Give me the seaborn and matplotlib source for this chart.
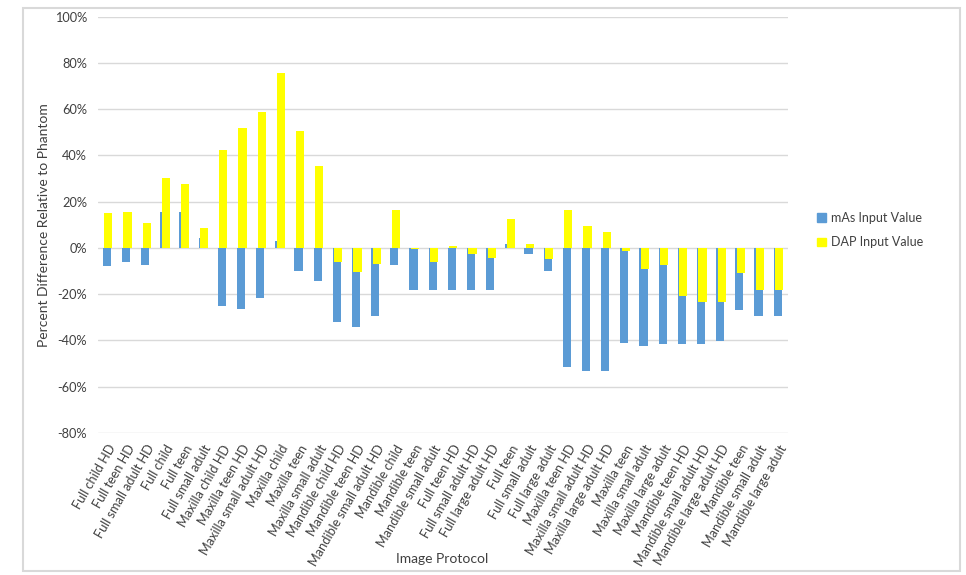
import matplotlib
matplotlib.use("Agg")
import matplotlib.pyplot as plt
import matplotlib.patches as mpatches
from matplotlib.ticker import FuncFormatter
import seaborn as sns
import pandas as pd

categories = [
    "Full child HD", "Full teen HD", "Full small adult HD", "Full child", "Full teen",
    "Full small adult", "Maxilla child HD", "Maxilla teen HD", "Maxilla small adult HD",
    "Maxilla child", "Maxilla teen", "Maxilla small adult", "Mandible child HD",
    "Mandible teen HD", "Mandible small adult HD", "Mandible child", "Mandible teen",
    "Mandible small adult", "Full teen HD", "Full small adult HD", "Full large adult HD",
    "Full teen", "Full small adult", "Full large adult", "Maxilla teen HD",
    "Maxilla small adult HD", "Maxilla large adult HD", "Maxilla teen", "Maxilla small adult",
    "Maxilla large adult", "Mandible teen HD", "Mandible small adult HD",
    "Mandible large adult HD", "Mandible teen", "Mandible small adult", "Mandible large adult",
]
mas_values = [
    -7.8, -6.2, -7.2, 15.4, 15.4, 4.3, -24.9, -26.3, -21.6, 2.9, -9.9, -14.2,
    -32.1, -34.1, -29.4, -7.2, -18.1, -18.1, -18.1, -18.1, -18.1, 1.9, -2.4, -9.8,
    -51.4, -53.1, -53.1, -40.9, -42.2, -41.7, -41.7, -41.7, -40.4, -26.9, -29.2, -29.2,
]
dap_values = [
    15.1, 15.4, 10.9, 30.2, 27.5, 8.5, 42.2, 51.7, 58.7, 75.8, 50.4, 35.4,
    -6.0, -10.5, -7.1, 16.3, -0.6, -6.0, 0.7, -2.4, -4.3, 12.5, 1.6, -4.6,
    16.3, 9.4, 6.8, -1.3, -9.1, -7.5, -20.6, -23.5, -23.5, -10.8, -18.3, -18.0,
]
series_names = ["mAs Input Value", "DAP Input Value"]
yticks = list(range(-80, 101, 20))

BLUE = "#5B9BD5"
YELLOW = "#FFFF00"

sns.set_style("white")
plt.rcParams["font.family"] = ["Lato", "DejaVu Sans"]

fig = plt.figure(figsize=(9.66, 5.75), dpi=100)
ax = fig.add_axes([98 / 966, 1 - 433 / 575, 690 / 966, (433 - 16.7) / 575])

idx = list(range(len(categories)))
df = pd.DataFrame({"pos": idx, "mas": mas_values, "dap": dap_values})

bw = 0.43
shift = 0.04
sns.barplot(data=df, x="pos", y="mas", color=BLUE, width=bw, saturation=1,
            ax=ax, zorder=2, linewidth=0)
n_blue = len(ax.patches)
sns.barplot(data=df, x="pos", y="dap", color=YELLOW, width=bw, saturation=1,
            ax=ax, zorder=3, linewidth=0)
for i, p in enumerate(ax.patches):
    if i < n_blue:
        p.set_x(p.get_x() - shift)
    else:
        p.set_x(p.get_x() + shift)

ax.set_xlim(-0.5, len(categories) - 0.5)
ax.set_ylim(-80, 100)
ax.set_yticks(yticks)
ax.yaxis.set_major_formatter(FuncFormatter(lambda v, _: f"{int(v)}%"))
ax.set_xticks(idx)
ax.set_xticklabels(categories, rotation=60, ha="right", rotation_mode="anchor",
                   fontsize=9.2, color="#404040")
ax.tick_params(axis="y", labelsize=9.2, colors="#404040", length=0, pad=8)
ax.tick_params(axis="x", length=0, pad=7)
ax.grid(axis="y", color="#d9d9d9", linewidth=1, zorder=0)
ax.set_axisbelow(True)
for s in ax.spines.values():
    s.set_visible(False)

ax.set_xlabel("")
ax.set_ylabel("")
fig.text(442 / 966, 1 - 559 / 575, "Image Protocol", ha="center", va="center",
         fontsize=10, color="#404040")
fig.text(44 / 966, 1 - 225 / 575, "Percent Difference Relative to Phantom",
         ha="center", va="center", rotation=90, fontsize=10, color="#404040")

handles = [mpatches.Patch(color=BLUE, label=series_names[0]),
           mpatches.Patch(color=YELLOW, label=series_names[1])]
fig.legend(handles=handles, loc="center left", bbox_to_anchor=(806 / 966, 1 - 230 / 575),
           frameon=False, fontsize=9, handlelength=0.7, handleheight=0.7,
           handletextpad=0.4, labelspacing=1.0, labelcolor="#404040")

border = mpatches.Rectangle((23 / 966, 1 - 571 / 575), (960 - 23) / 966, (571 - 8) / 575,
                            transform=fig.transFigure, fill=False, edgecolor="#d9d9d9",
                            linewidth=1.5)
fig.patches.append(border)

fig.savefig("out.png", dpi=100)
